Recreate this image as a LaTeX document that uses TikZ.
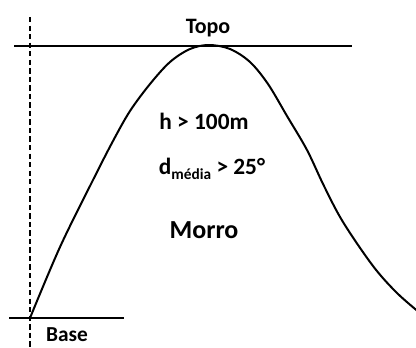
\documentclass[tikz,border=0pt]{standalone}
\usepackage{fontspec}
\setmainfont{Carlito}
\begin{document}
\begin{tikzpicture}[x=0.75pt, y=-0.75pt,
    rotulo/.style={font=\bfseries\fontsize{17.5}{20}\selectfont, inner sep=0pt, anchor=base},
    linha/.style={line width=1pt}]

        \useasboundingbox (0,0) rectangle (416,347);
        \clip (0,0) rectangle (416,347);

        % Vertical dashed line through the base
        \draw[linha, dash pattern=on 4pt off 2.4pt] (30,17) -- (30,347);

        % Top and base lines
        \draw[linha] (14,46) -- (352,46);
        \draw[linha] (9,318) -- (124,318);

        % Hill profile
        \draw[line width=1.5pt] plot[smooth, tension=0.55] coordinates {
            (30,318) (60,247) (93,180) (113,141) (130,111) (150,84)
            (170,62) (190,49) (209,45) (230,49) (250,62) (268,84)
            (287,116) (307,150) (324,186) (343,222) (373,266)
            (397,293) (420,313)};

        % Labels
        \node[rotulo, font=\bfseries\fontsize{16.5}{19}\selectfont] (topo) at (208,33) {Topo};
        \node[rotulo, font=\bfseries\fontsize{16}{19}\selectfont] (base) at (67,341) {Base};
        \node[rotulo] (altura) at (204,129) {h > 100m};
        \node[rotulo] (declive) at (212,174)
            {d\raisebox{-3.8pt}{\fontsize{11.5}{13}\selectfont média} > 25°};
        \node[rotulo, font=\bfseries\fontsize{19.5}{22}\selectfont] (morro) at (204,238) {Morro};

\end{tikzpicture}
\end{document}
